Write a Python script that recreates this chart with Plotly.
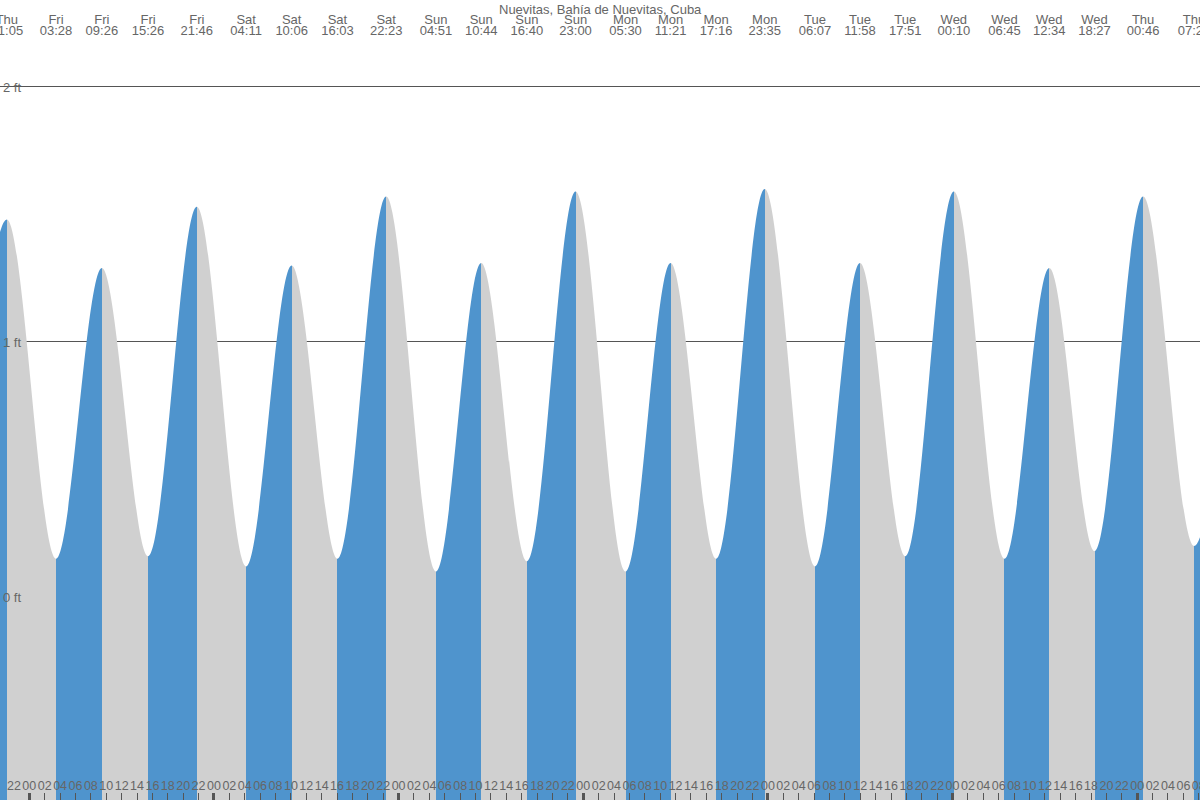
import pandas as pd
import plotly.graph_objects as go

# ---------------- data ----------------
chart_title = "Nuevitas, Bahía de Nuevitas, Cuba"

# times of successive high / low waters (local time)
tide_times = [
    "2024-01-04 14:45",  # low (just before the visible window)
    "2024-01-04 21:05",
    "2024-01-05 03:28",
    "2024-01-05 09:26",
    "2024-01-05 15:26",
    "2024-01-05 21:46",
    "2024-01-06 04:11",
    "2024-01-06 10:06",
    "2024-01-06 16:03",
    "2024-01-06 22:23",
    "2024-01-07 04:51",
    "2024-01-07 10:44",
    "2024-01-07 16:40",
    "2024-01-07 23:00",
    "2024-01-08 05:30",
    "2024-01-08 11:21",
    "2024-01-08 17:16",
    "2024-01-08 23:35",
    "2024-01-09 06:07",
    "2024-01-09 11:58",
    "2024-01-09 17:51",
    "2024-01-10 00:10",
    "2024-01-10 06:45",
    "2024-01-10 12:34",
    "2024-01-10 18:27",
    "2024-01-11 00:46",
    "2024-01-11 07:23",
    "2024-01-11 13:20",  # high (just after the visible window)
]

# tide height at each of those times, in feet
tide_heights_ft = [
    0.17, 1.48, 0.15, 1.29, 0.16, 1.53, 0.12, 1.30, 0.15, 1.57,
    0.10, 1.31, 0.14, 1.59, 0.10, 1.31, 0.15, 1.60, 0.12, 1.31,
    0.16, 1.59, 0.15, 1.29, 0.18, 1.57, 0.20, 1.27,
]

view_start = "2024-01-04 20:11:30"
view_end = "2024-01-11 08:09:36"
y_range_ft = [-0.796, 2.341]

# hour ticks along the bottom (every two hours) and day ticks (midnights)
hour_ticks = pd.date_range("2024-01-04 20:00", "2024-01-11 08:00", freq="2h")
day_ticks = pd.date_range("2024-01-05 00:00", "2024-01-11 00:00", freq="1D")

# ---------------- styling ----------------
rising_color = "#4f94cd"
falling_color = "#d0d0d0"
text_color = "#666666"
line_color = "#555555"
font_family = "Liberation Sans, Arial, sans-serif"

times = pd.to_datetime(tide_times)
t_first, t_last = times[0], times[-1]
span = (t_last - t_first).total_seconds()

# step colour scale: blue while the tide rises, grey while it falls
colorscale = []
for i in range(len(times) - 1):
    c = rising_color if tide_heights_ft[i + 1] > tide_heights_ft[i] else falling_color
    f0 = (times[i] - t_first).total_seconds() / span
    f1 = (times[i + 1] - t_first).total_seconds() / span
    colorscale.append([f0, c])
    colorscale.append([f1, c])

fig = go.Figure()

# baseline (bottom of the chart) for the area fill
fig.add_trace(go.Scatter(
    x=[t_first, t_last], y=[y_range_ft[0], y_range_ft[0]],
    mode="lines", line=dict(width=0, color="rgba(0,0,0,0)"),
    hoverinfo="skip", showlegend=False,
))

# tide curve
fig.add_trace(go.Scatter(
    x=times, y=tide_heights_ft,
    mode="lines", line=dict(width=0, shape="spline", smoothing=1, color="rgba(0,0,0,0)"),
    fill="tonexty",
    fillgradient=dict(type="horizontal", colorscale=colorscale),
    hoverinfo="skip", showlegend=False,
))

# invisible traces so the overlay axes get drawn
for ax, ay in [("x2", "y"), ("x3", "y"), ("x4", "y"), ("x5", "y"), ("x", "y2")]:
    fig.add_trace(go.Scatter(
        x=[t_first, t_last], y=[y_range_ft[0], y_range_ft[0]], xaxis=ax, yaxis=ay,
        mode="lines", line=dict(width=0, color="rgba(0,0,0,0)"),
        hoverinfo="skip", showlegend=False,
    ))

top_font = dict(family=font_family, size=13, color=text_color)
bottom_font = dict(family=font_family, size=12.5, color=text_color)
common_x = dict(type="date", automargin=False, showgrid=False, zeroline=False,
                showline=False, tickangle=0, ticklabeloverflow="allow")

fig.update_layout(
    width=1200, height=800, autosize=False,
    margin=dict(l=0, r=0, t=0, b=0, pad=0, autoexpand=False),
    paper_bgcolor="white", plot_bgcolor="white",
    showlegend=False,
    font=dict(family=font_family, size=13, color=text_color),
    # thin two-hour ticks
    xaxis=dict(
        **common_x, range=[view_start, view_end],
        tickmode="array", tickvals=hour_ticks,
        ticks="inside", ticklen=7, tickwidth=1, tickcolor=line_color,
        showticklabels=False,
    ),
    # two-hour labels
    xaxis5=dict(
        **common_x, overlaying="x", matches="x", side="bottom",
        tickmode="array", tickvals=hour_ticks, tickformat="%H",
        ticks="inside", ticklen=7, tickcolor="rgba(0,0,0,0)",
        ticklabelposition="inside", tickfont=bottom_font,
    ),
    # thick midnight ticks
    xaxis3=dict(
        **common_x, overlaying="x", matches="x", side="bottom",
        tickmode="array", tickvals=day_ticks,
        ticks="inside", ticklen=7, tickwidth=3, tickcolor=line_color,
        showticklabels=False,
    ),
    # day names of high / low waters
    xaxis2=dict(
        **common_x, overlaying="x", matches="x", side="top",
        tickmode="array", tickvals=tide_times, tickformat="%a",
        ticks="inside", ticklen=15, tickcolor="rgba(0,0,0,0)",
        ticklabelposition="inside", tickfont=top_font,
    ),
    # clock times of high / low waters
    xaxis4=dict(
        **common_x, overlaying="x", matches="x", side="top",
        tickmode="array", tickvals=tide_times, tickformat="%H:%M",
        ticks="inside", ticklen=26, tickcolor="rgba(0,0,0,0)",
        ticklabelposition="inside", tickfont=top_font,
    ),
    yaxis=dict(
        range=y_range_ft, tick0=0, dtick=1, automargin=False,
        showgrid=True, gridcolor=line_color, gridwidth=1,
        showticklabels=False, ticks="", zeroline=False, showline=False,
    ),
    yaxis2=dict(
        range=y_range_ft, matches="y", overlaying="y", anchor="free", position=0,
        side="left", tick0=0, dtick=1, ticksuffix=" ft", automargin=False,
        showgrid=False, ticks="", ticklabelposition="inside",
        ticklabelstandoff=-1,
        zeroline=False, showline=False, tickfont=top_font,
    ),
    annotations=[dict(
        text=chart_title, x=0.5, y=1, xref="paper", yref="paper",
        xanchor="center", yanchor="top", showarrow=False,
        font=dict(family=font_family, size=13, color=text_color),
    )],
)

fig.write_html(
    "out.html",
    config={"displayModeBar": False, "responsive": False},
    post_script=(
        "document.body.style.margin='0';"
        "document.body.style.overflow='hidden';"
        "Plotly.relayout(document.getElementById('{plot_id}'), {width: 1200, height: 800});"
    ),
)
